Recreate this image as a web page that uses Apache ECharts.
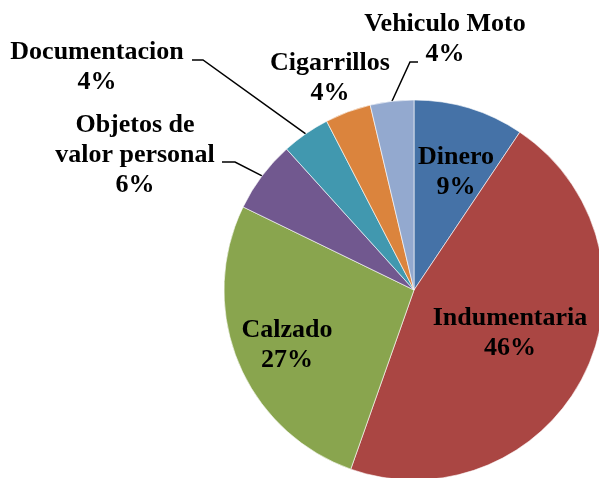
<!DOCTYPE html>
<html>
<head>
<meta charset="utf-8">
<script src="https://cdn.jsdelivr.net/npm/echarts@6/dist/echarts.min.js"></script>
<style>
  html, body { margin: 0; padding: 0; background: #fff; }
  #chart { width: 599px; height: 478px; }
</style>
</head>
<body>
<div id="chart"></div>
<script>
// categorias y valores (porcentaje aproximado)
var categories = ['Dinero', 'Indumentaria', 'Calzado', 'Objetos de\nvalor personal', 'Documentacion', 'Cigarrillos', 'Vehiculo Moto'];
var values = [9.4, 46.0, 26.8, 6.1, 4.1, 3.9, 3.7];
var colors = ['#4572A7', '#AA4643', '#89A54E', '#71588F', '#4198AF', '#DB843D', '#93A9CF'];

// donde va cada etiqueta (centro del bloque de texto) y el quiebre de la linea guia
var labelPos = [
    { x: 456, y: 172, inside: true },
    { x: 510, y: 333, inside: true },
    { x: 287, y: 345, inside: true },
    { x: 135, y: 155, line: [[235, 162], [222, 162]] },
    { x: 97, y: 67, line: [[203, 60], [192, 60]] },
    { x: 330, y: 78 },
    { x: 445, y: 39, line: [[410, 62], [418, 62]] }
];

var chart = echarts.init(document.getElementById('chart'));

var pieData = categories.map(function (name, i) {
    return {
        name: name,
        value: values[i],
        itemStyle: { color: colors[i] },
        label: { position: labelPos[i].inside ? 'inside' : 'outside' },
        labelLine: { show: !!labelPos[i].line }
    };
});

chart.setOption({
    animation: false,
    series: [{
        type: 'pie',
        center: [414, 290],
        radius: 190,
        startAngle: 90,
        clockwise: true,
        avoidLabelOverlap: false,
        percentPrecision: 0,
        itemStyle: { borderColor: '#fff', borderWidth: 0.6 },
        label: {
            show: true,
            formatter: '{b}\n{d}%',
            fontFamily: 'Liberation Serif',
            fontWeight: 'bold',
            fontSize: 26,
            lineHeight: 30,
            color: '#000',
            align: 'center'
        },
        labelLine: {
            show: true,
            lineStyle: { color: '#000', width: 1.5 }
        },
        labelLayout: function (params) {
            var p = labelPos[params.dataIndex];
            var out = { x: p.x, y: p.y, align: 'center', verticalAlign: 'middle' };
            if (p.line && params.labelLinePoints) {
                out.labelLinePoints = [params.labelLinePoints[0], p.line[0], p.line[1]];
            }
            return out;
        },
        data: pieData
    }]
});
</script>
</body>
</html>
